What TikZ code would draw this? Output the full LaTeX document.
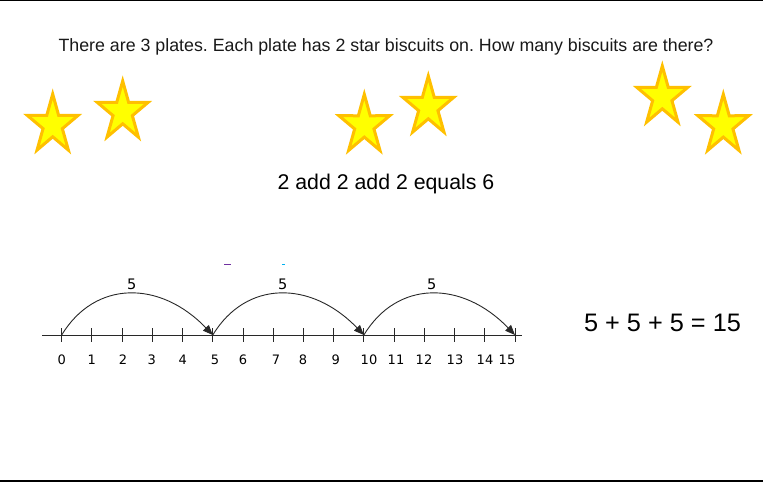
\documentclass[tikz,border=0pt]{standalone}
\usepackage{fontspec}
\setmainfont{Liberation Sans}
\newfontfamily\verd{DejaVu Sans}
\usetikzlibrary{arrows.meta}
\definecolor{starfill}{RGB}{255,255,0}
\definecolor{starline}{RGB}{255,192,0}
\definecolor{axisgray}{RGB}{40,40,40}
\definecolor{markpurple}{RGB}{112,48,160}
\definecolor{markblue}{RGB}{0,176,240}
\tikzset{
  starbox/.style={fill=starfill, draw=starline, line width=3pt, line join=miter},
  jump/.style={draw=axisgray, line width=0.9pt, -{Triangle[length=10pt,width=8pt]}},
  tick/.style={draw=axisgray, line width=0.9pt},
  numlab/.style={font=\verd\fontsize{13}{15}\selectfont, inner sep=0pt},
  jumplab/.style={font=\verd\fontsize{14.5}{17}\selectfont, inner sep=0pt},
}
\newcommand{\mystar}[2]{%
  \draw[starbox, shift={(#1,#2)}, xscale=0.86]
    (-90:31) -- (-54:11.8) -- (-18:31) -- (18:11.8) -- (54:31) -- (90:11.8)
    -- (126:31) -- (162:11.8) -- (198:31) -- (234:11.8) -- cycle;}
\begin{document}
\frenchspacing
\begin{tikzpicture}[x=1pt,y=-1pt]
\useasboundingbox (0,0) rectangle (763,483);
\fill[white] (0,0) rectangle (763,483);
% borders
\draw[line width=1pt] (0,0.5) -- (763,0.5);
\draw[line width=2pt] (0,481) -- (763,481);
% title
\node[inner sep=0pt, font=\fontsize{17.8}{21}\selectfont, text=black!90] (title) at (386,47)
  {There are 3 plates. Each plate has 2 star biscuits on. How many biscuits are there?};
% stars
\mystar{52.7}{125}
\mystar{122.7}{112}
\mystar{364.3}{125.3}
\mystar{428.3}{107}
\mystar{662.3}{97}
\mystar{723.3}{125.3}
% sentence
\node[inner sep=0pt, font=\fontsize{21.3}{25}\selectfont] (sentence) at (386,184) {2 add 2 add 2 equals 6};
% small marks
\draw[markpurple, line width=1.2pt] (224,264.3) -- (231,264.3);
\draw[markblue, line width=1.2pt] (282,264.3) -- (284.5,264.3);
% number line
\coordinate (axL) at (42,335);
\coordinate (axR) at (522,335);
\draw[tick] (axL) -- (axR);
\foreach \i in {0,...,15} {
  \coordinate (t\i) at ({61.7+30.22*\i},335);
  \draw[tick] ({61.7+30.22*\i},328) -- ({61.7+30.22*\i},342);
}
\foreach \i/\xx in {0/61.7,1/91.7,2/123,3/151.7,4/182.7,5/215,6/243,7/276,8/303,9/335.7,10/369,11/396,12/424,13/455,14/485,15/507} {
  \node[numlab] (n\i) at (\xx,359.5) {\i};
}
% jumps
\draw[jump] (t0) .. controls (95,280) and (160,280) .. (t5);
\draw[jump] (t5) .. controls (246,280) and (311,280) .. (t10);
\draw[jump] (t10) .. controls (397,280) and (462,280) .. (t15);
\node[jumplab] (j1) at (131.7,284) {5};
\node[jumplab] (j2) at (282.7,284) {5};
\node[jumplab] (j3) at (431.7,284) {5};
% equation
\node[inner sep=0pt, font=\fontsize{25.3}{30}\selectfont] (eq) at (662.5,323) {5 + 5 + 5 = 15};
\end{tikzpicture}
\end{document}
